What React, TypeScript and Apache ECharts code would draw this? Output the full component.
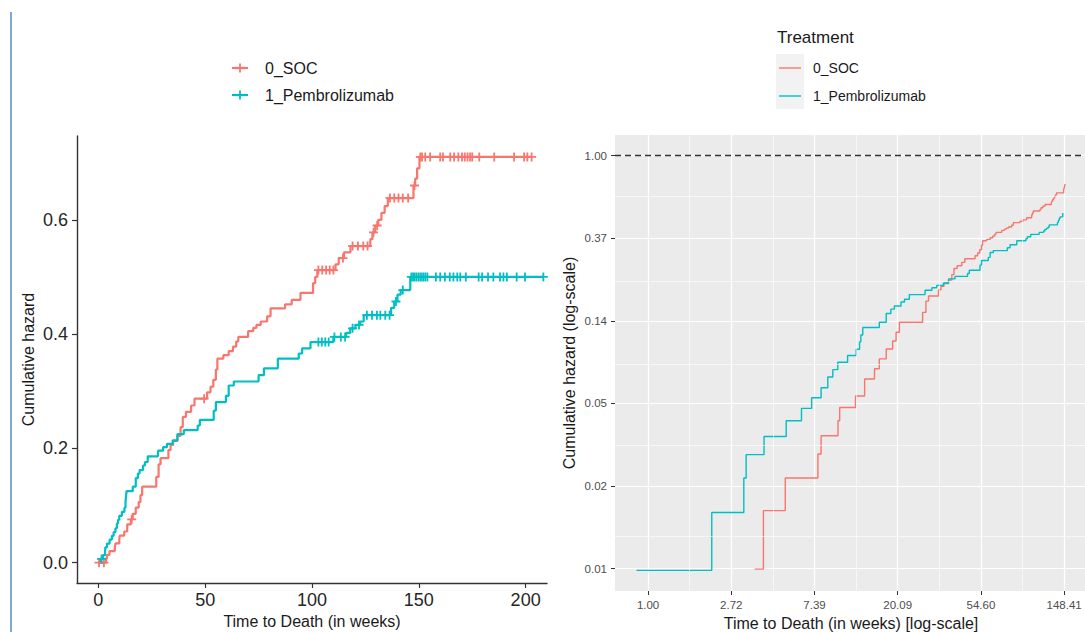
import React, { useEffect, useRef } from "react";
import * as echarts from "echarts";

const GROUPS = ["0_SOC", "1_Pembrolizumab"];
const COLORS = ["#F8766D", "#00BFC4"];
const FONT = "'Liberation Sans', Arial, sans-serif";

// Event times (weeks) and the cumulative hazard reached at each event
const socEventWeeks = [3.6, 4.0, 5.2, 7.7, 8.0, 9.8, 10.0, 12.1, 13.5, 15.2, 16.1, 17.5, 18.9, 19.7, 20.5, 27.1, 28.2, 29.1, 32.8, 33.8, 35.0, 37.0, 38.5, 39.5, 41.0, 43.4, 45.0, 50.9, 52.5, 53.8, 55.0, 55.7, 58.5, 61.0, 63.0, 64.5, 65.5, 70.1, 72.5, 74.0, 76.0, 79.0, 80.6, 87.4, 90.5, 94.6, 100.5, 101.5, 102.5, 111.0, 112.5, 115.0, 118.0, 127.3, 128.3, 129.6, 131.0, 132.5, 134.0, 135.5, 147.5, 148.3, 149.2, 150.3];
const socHazard = [0.0067, 0.0136, 0.0202, 0.027, 0.0337, 0.0404, 0.0474, 0.0545, 0.067, 0.0758, 0.0854, 0.0963, 0.106, 0.118, 0.133, 0.15, 0.172, 0.183, 0.197, 0.206, 0.213, 0.222, 0.237, 0.255, 0.264, 0.275, 0.287, 0.298, 0.308, 0.32, 0.338, 0.357, 0.363, 0.37, 0.378, 0.387, 0.395, 0.405, 0.411, 0.416, 0.422, 0.431, 0.445, 0.452, 0.46, 0.472, 0.489, 0.5, 0.512, 0.522, 0.533, 0.543, 0.554, 0.566, 0.578, 0.59, 0.6, 0.612, 0.624, 0.638, 0.66, 0.672, 0.69, 0.71];

const pemEventWeeks = [0.87, 2.15, 3.16, 3.25, 4.03, 5.26, 6.32, 7.14, 8.0, 8.67, 9.21, 9.78, 11.0, 12.2, 12.7, 12.9, 13.2, 16.1, 17.5, 18.5, 19.3, 20.9, 21.8, 23.1, 27.9, 30.3, 32.1, 34.8, 37.0, 40.0, 46.5, 47.5, 54.0, 55.0, 59.7, 61.0, 63.4, 75.0, 77.5, 84.0, 93.8, 95.4, 99.3, 110.0, 116.0, 117.9, 120.3, 122.6, 124.2, 137.0, 138.5, 140.0, 141.5, 146.0];
const pemHazard = [0.0066, 0.0133, 0.0202, 0.0268, 0.0334, 0.0404, 0.0469, 0.0534, 0.0602, 0.0686, 0.075, 0.082, 0.089, 0.096, 0.105, 0.114, 0.125, 0.133, 0.148, 0.156, 0.162, 0.17, 0.176, 0.186, 0.196, 0.202, 0.208, 0.214, 0.225, 0.232, 0.24, 0.25, 0.266, 0.281, 0.292, 0.31, 0.317, 0.328, 0.34, 0.357, 0.366, 0.375, 0.386, 0.395, 0.402, 0.41, 0.416, 0.422, 0.433, 0.446, 0.457, 0.469, 0.477, 0.5];

// Censoring times (weeks)
const socCensorWeeks = [0.3, 2.6, 15.6, 49.5, 103, 104.8, 106.6, 108.3, 110, 114.5, 119, 121.5, 124, 126, 128.8, 130.5, 136.5, 138.5, 140.5, 142.5, 145, 148, 150.7, 151.5, 153, 155.3, 160, 161.3, 164.7, 166.5, 168.5, 170.2, 171.5, 172.8, 174, 175, 178.3, 185.3, 194.6, 199.3, 200.8, 202.8];
const pemCensorWeeks = [1.5, 103, 104.6, 106.2, 107.8, 110.5, 113.5, 115.5, 119, 122, 125.7, 128.1, 130.4, 132, 134.3, 136.3, 139.3, 142.5, 146.5, 147.3, 148.1, 149, 150, 151, 152, 153, 154, 158, 160, 162.2, 164.5, 166.2, 168, 169.4, 172, 178, 179.6, 182.4, 184.9, 188, 189.6, 191.2, 195.8, 199.7, 208.3];

// Axis breaks
const linearTimeTicks = [0, 50, 100, 150, 200];
const linearHazardTicks = [0, 0.2, 0.4, 0.6];
const logTimeExponents = [0, 1, 2, 3, 4, 5];
const logHazardExponents = [-5, -4, -3, -2, -1, 0];
const logTimeMinorExponents = [0.5, 1.5, 2.5, 3.5, 4.5];
const logHazardMinorExponents = [-4.5, -3.5, -2.5, -1.5, -0.5];

const PLUS_ICON = "path://M0,40 L100,40 L100,60 L0,60 Z M40,0 L60,0 L60,100 L40,100 Z";

const zip = (a: number[], b: number[]) => a.map((v, i) => [v, b[i]]);

const hazardAt = (times: number[], hazard: number[], t: number) => {
  let h = 0;
  for (let i = 0; i < times.length; i++) if (times[i] <= t) h = hazard[i];
  return h;
};

const groups = [
  { events: socEventWeeks, hazard: socHazard, censor: socCensorWeeks },
  { events: pemEventWeeks, hazard: pemHazard, censor: pemCensorWeeks },
];

function buildOption() {
  const series: any[] = [];

  groups.forEach((g, i) => {
    const lastFollowUp = Math.max(...g.censor);
    const lastH = g.hazard[g.hazard.length - 1];
    series.push({
      name: GROUPS[i],
      type: "line",
      xAxisIndex: 0,
      yAxisIndex: 0,
      step: "end",
      showSymbol: false,
      z: 3,
      lineStyle: { color: COLORS[i], width: 2.2 },
      itemStyle: { color: COLORS[i] },
      data: [[0, 0], ...zip(g.events, g.hazard), [lastFollowUp, lastH]],
    });
    series.push({
      name: GROUPS[i] + " censored",
      type: "scatter",
      xAxisIndex: 0,
      yAxisIndex: 0,
      symbol: PLUS_ICON,
      symbolSize: 9,
      z: 4,
      itemStyle: { color: COLORS[i], opacity: 1 },
      data: g.censor.map((t) => [t, hazardAt(g.events, g.hazard, t)]),
    });
  });

  // minor grid of the log-log panel
  series.push({
    name: "minor grid",
    type: "line",
    xAxisIndex: 1,
    yAxisIndex: 1,
    data: [],
    silent: true,
    z: 1,
    markLine: {
      silent: true,
      symbol: ["none", "none"],
      label: { show: false },
      animation: false,
      lineStyle: { color: "#ffffff", width: 0.6, type: "solid" },
      data: [
        ...logTimeMinorExponents.map((e) => ({ xAxis: Math.exp(e) })),
        ...logHazardMinorExponents.map((e) => ({ yAxis: Math.exp(e) })),
      ],
    },
  });

  groups.forEach((g, i) => {
    series.push({
      name: GROUPS[i] + " log",
      type: "line",
      xAxisIndex: 1,
      yAxisIndex: 1,
      step: "end",
      showSymbol: false,
      z: 3,
      lineStyle: { color: COLORS[i], width: 1.4 },
      itemStyle: { color: COLORS[i] },
      data: zip(g.events, g.hazard),
    });
  });

  // reference line at a cumulative hazard of 1
  series.push({
    name: "reference",
    type: "line",
    xAxisIndex: 1,
    yAxisIndex: 1,
    data: [],
    silent: true,
    z: 5,
    markLine: {
      silent: true,
      symbol: ["none", "none"],
      label: { show: false },
      animation: false,
      lineStyle: { color: "#333333", width: 1.4, type: [6, 4] },
      data: [{ yAxis: 1 }],
    },
  });

  const legendItems: any[] = [];
  GROUPS.forEach((name, i) => {
    const y = [68, 95][i];
    legendItems.push(
      { type: "line", shape: { x1: 232, y1: y, x2: 248, y2: y }, style: { stroke: COLORS[i], lineWidth: 2.2 } },
      { type: "line", shape: { x1: 240, y1: y - 4.5, x2: 240, y2: y + 4.5 }, style: { stroke: COLORS[i], lineWidth: 1.8 } },
      { type: "text", x: 265, y, style: { text: name, fill: "#1a1a1a", font: `16px ${FONT}`, verticalAlign: "middle" } }
    );
  });
  legendItems.push(
    { type: "text", x: 777, y: 37, style: { text: "Treatment", fill: "#1a1a1a", font: `17px ${FONT}`, verticalAlign: "middle" } },
    { type: "rect", shape: { x: 776, y: 54, width: 28, height: 55 }, style: { fill: "#F2F2F2" } }
  );
  GROUPS.forEach((name, i) => {
    const y = [68, 96][i];
    legendItems.push(
      { type: "line", shape: { x1: 779, y1: y, x2: 801, y2: y }, style: { stroke: COLORS[i], lineWidth: 1.4 } },
      { type: "text", x: 813, y, style: { text: name, fill: "#1a1a1a", font: `14px ${FONT}`, verticalAlign: "middle" } }
    );
  });
  legendItems.push({
    type: "line",
    shape: { x1: 11, y1: 12, x2: 11, y2: 632 },
    style: { stroke: "#5A86C8", lineWidth: 1.5 },
  });

  const axisText = (size: number, color: string) => ({ fontSize: size, color, fontFamily: FONT });

  return {
    animation: false,
    textStyle: { fontFamily: FONT },
    grid: [
      { left: 77, top: 136, width: 470, height: 447, outerBoundsMode: "none", containLabel: false },
      {
        left: 615, top: 135, width: 472, height: 456, outerBoundsMode: "none", containLabel: false,
        show: true, backgroundColor: "#EBEBEB", borderWidth: 0,
      },
    ],
    xAxis: [
      {
        type: "value",
        gridIndex: 0,
        min: -10,
        max: 210,
        name: "Time to Death (in weeks)",
        nameLocation: "middle",
        nameGap: 30,
        nameTextStyle: axisText(16, "#1a1a1a"),
        axisLine: { show: true, onZero: false, lineStyle: { color: "#333333", width: 1.4 } },
        axisTick: { show: true, length: 5, customValues: linearTimeTicks, lineStyle: { color: "#333333", width: 1.2 } },
        axisLabel: { customValues: linearTimeTicks, margin: 8, ...axisText(18, "#262626"), formatter: (v: number) => String(v) },
        splitLine: { show: false },
      },
      {
        type: "log",
        logBase: Math.E,
        gridIndex: 1,
        min: 0.672,
        max: 195.4,
        name: "Time to Death (in weeks) [log-scale]",
        nameLocation: "middle",
        nameGap: 24,
        nameTextStyle: axisText(16, "#1a1a1a"),
        axisLine: { show: false },
        axisTick: { show: true, length: 4, customValues: logTimeExponents.map((e) => Math.exp(e)), lineStyle: { color: "#333333", width: 1 } },
        axisLabel: {
          customValues: logTimeExponents.map((e) => Math.exp(e)),
          margin: 8,
          ...axisText(11.5, "#4D4D4D"),
          formatter: (v: number) => v.toFixed(2),
        },
        splitLine: { show: true, lineStyle: { color: "#ffffff", width: 1.2 } },
      },
    ],
    yAxis: [
      {
        type: "value",
        gridIndex: 0,
        min: -0.0356,
        max: 0.7466,
        name: "Cumulative hazard",
        nameLocation: "middle",
        nameGap: 41,
        nameTextStyle: axisText(16, "#1a1a1a"),
        axisLine: { show: true, onZero: false, lineStyle: { color: "#333333", width: 1.4 } },
        axisTick: { show: true, length: 5, customValues: linearHazardTicks, lineStyle: { color: "#333333", width: 1.2 } },
        axisLabel: { customValues: linearHazardTicks, margin: 9, ...axisText(18, "#262626"), formatter: (v: number) => v.toFixed(1) },
        splitLine: { show: false },
      },
      {
        type: "log",
        logBase: Math.E,
        gridIndex: 1,
        min: 0.00514,
        max: 1.285,
        name: "Cumulative hazard (log-scale)",
        nameLocation: "middle",
        nameGap: 38,
        nameTextStyle: axisText(16, "#1a1a1a"),
        axisLine: { show: false },
        axisTick: { show: true, length: 4, customValues: logHazardExponents.map((e) => Math.exp(e)), lineStyle: { color: "#333333", width: 1 } },
        axisLabel: {
          customValues: logHazardExponents.map((e) => Math.exp(e)),
          margin: 8,
          ...axisText(11.5, "#4D4D4D"),
          formatter: (v: number) => v.toFixed(2),
        },
        splitLine: { show: true, lineStyle: { color: "#ffffff", width: 1.2 } },
      },
    ],
    graphic: { elements: legendItems },
    series,
  };
}

export default function App() {
  const ref = useRef<HTMLDivElement>(null);

  useEffect(() => {
    document.body.style.margin = "0";
    if (!ref.current) return;
    const chart = echarts.init(ref.current, undefined, { renderer: "svg" });
    chart.setOption(buildOption() as any);
    return () => chart.dispose();
  }, []);

  return (
    <div style={{ width: 1085, height: 632, overflow: "hidden", position: "relative", background: "#ffffff" }}>
      <div ref={ref} style={{ width: 1092, height: 632 }} />
    </div>
  );
}
